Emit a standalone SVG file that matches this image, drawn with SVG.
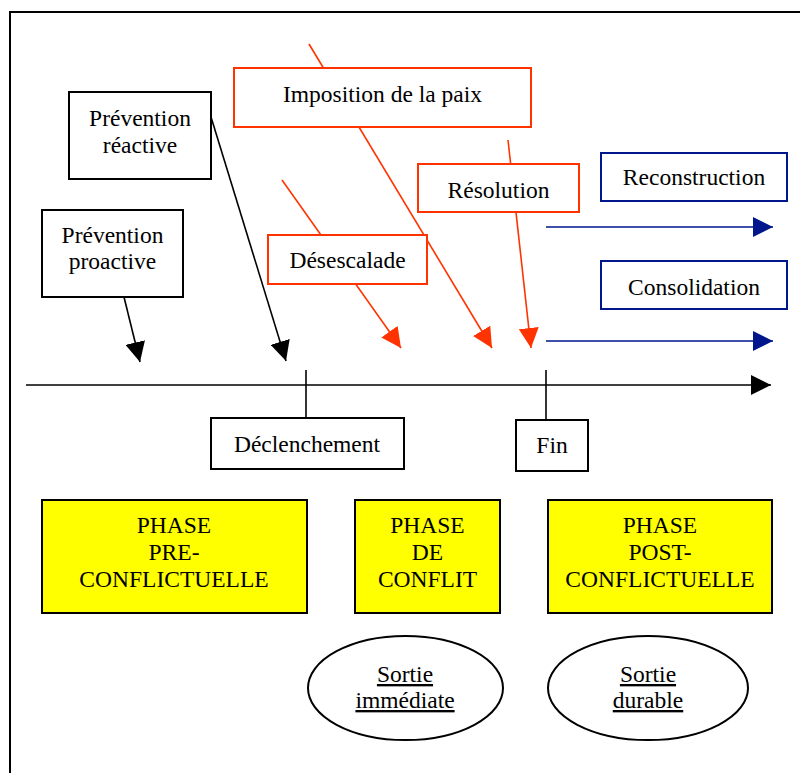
<svg xmlns="http://www.w3.org/2000/svg" width="800" height="773" viewBox="0 0 800 773">
<style>
text{font-family:"Liberation Serif","Times New Roman",serif;font-size:23.5px;fill:#000;text-anchor:middle}
.bk{fill:#fff;stroke:#000;stroke-width:2}
.rd{fill:#fff;stroke:#FF3300;stroke-width:2}
.bl{fill:#fff;stroke:#00168C;stroke-width:2}
.ph{fill:#FFFF00;stroke:#000;stroke-width:2}
.u{text-decoration:underline}
.lk{stroke:#000;stroke-width:1.6;fill:none}
.lr{stroke:#FF3300;stroke-width:1.6;fill:none}
.lb{stroke:#00168C;stroke-width:1.6;fill:none}
</style>
<defs>
<marker id="ak" markerUnits="userSpaceOnUse" markerWidth="20" markerHeight="20" refX="20" refY="10" orient="auto"><path d="M0,0 L20,10 L0,20 z" fill="#000"/></marker>
<marker id="ar" markerUnits="userSpaceOnUse" markerWidth="20" markerHeight="20" refX="20" refY="10" orient="auto"><path d="M0,0 L20,10 L0,20 z" fill="#FF3300"/></marker>
<marker id="ab" markerUnits="userSpaceOnUse" markerWidth="20" markerHeight="20" refX="20" refY="10" orient="auto"><path d="M0,0 L20,10 L0,20 z" fill="#00168C"/></marker>
</defs>
<rect width="800" height="773" fill="#fff"/>
<rect x="10" y="12" width="800" height="800" fill="none" stroke="#000" stroke-width="2"/>
<g id="connectors">
<line class="lk" x1="26" y1="385" x2="771" y2="385" marker-end="url(#ak)"/>
<line class="lk" x1="306" y1="370" x2="306" y2="418"/>
<line class="lk" x1="546" y1="370" x2="546" y2="420"/>
<line class="lk" x1="124" y1="297" x2="140" y2="362" marker-end="url(#ak)"/>
<line class="lk" x1="211" y1="117" x2="286" y2="361" marker-end="url(#ak)"/>
<line class="lr" x1="309" y1="44" x2="492" y2="348" marker-end="url(#ar)"/>
<line class="lr" x1="282" y1="180" x2="401" y2="348" marker-end="url(#ar)"/>
<line class="lr" x1="508" y1="140" x2="531" y2="348" marker-end="url(#ar)"/>
<line class="lb" x1="546" y1="227" x2="773" y2="227" marker-end="url(#ab)"/>
<line class="lb" x1="546" y1="341" x2="773" y2="341" marker-end="url(#ab)"/>
</g>
<g id="prevention-reactive"><rect class="bk" x="69" y="92" width="142" height="87"/><text x="140" y="126">Prévention</text><text x="140" y="153">réactive</text></g>
<g id="prevention-proactive"><rect class="bk" x="42" y="210" width="141" height="87"/><text x="112.5" y="243">Prévention</text><text x="112.5" y="269">proactive</text></g>
<g id="imposition"><rect class="rd" x="234" y="68" width="297" height="59"/><text x="382.5" y="102">Imposition de la paix</text></g>
<g id="desescalade"><rect class="rd" x="268" y="235" width="159" height="49"/><text x="347.5" y="268">Désescalade</text></g>
<g id="resolution"><rect class="rd" x="418" y="164" width="161" height="48"/><text x="498.5" y="198">Résolution</text></g>
<g id="reconstruction"><rect class="bl" x="601" y="153" width="186" height="48"/><text x="694" y="185">Reconstruction</text></g>
<g id="consolidation"><rect class="bl" x="601" y="261" width="186" height="48"/><text x="694" y="295">Consolidation</text></g>
<g id="declenchement"><rect class="bk" x="211" y="418" width="193" height="51"/><text x="307" y="452">Déclenchement</text></g>
<g id="fin"><rect class="bk" x="516" y="420" width="72" height="51"/><text x="552" y="453">Fin</text></g>
<g id="phase-pre"><rect class="ph" x="42" y="500" width="265" height="113"/><text x="174" y="533">PHASE</text><text x="174" y="560">PRE-</text><text x="174" y="587">CONFLICTUELLE</text></g>
<g id="phase-conflit"><rect class="ph" x="355" y="500" width="145" height="113"/><text x="427.5" y="533">PHASE</text><text x="427.5" y="560">DE</text><text x="427.5" y="587">CONFLIT</text></g>
<g id="phase-post"><rect class="ph" x="548" y="500" width="224" height="113"/><text x="660" y="533">PHASE</text><text x="660" y="560">POST-</text><text x="660" y="587">CONFLICTUELLE</text></g>
<g id="sortie-immediate"><ellipse cx="405.5" cy="688" rx="97.5" ry="52" fill="#fff" stroke="#000" stroke-width="2"/><text class="u" x="405" y="682">Sortie</text><text class="u" x="405" y="708">immédiate</text></g>
<g id="sortie-durable"><ellipse cx="648" cy="688" rx="100" ry="52" fill="#fff" stroke="#000" stroke-width="2"/><text class="u" x="648" y="682">Sortie</text><text class="u" x="648" y="708">durable</text></g>
</svg>
